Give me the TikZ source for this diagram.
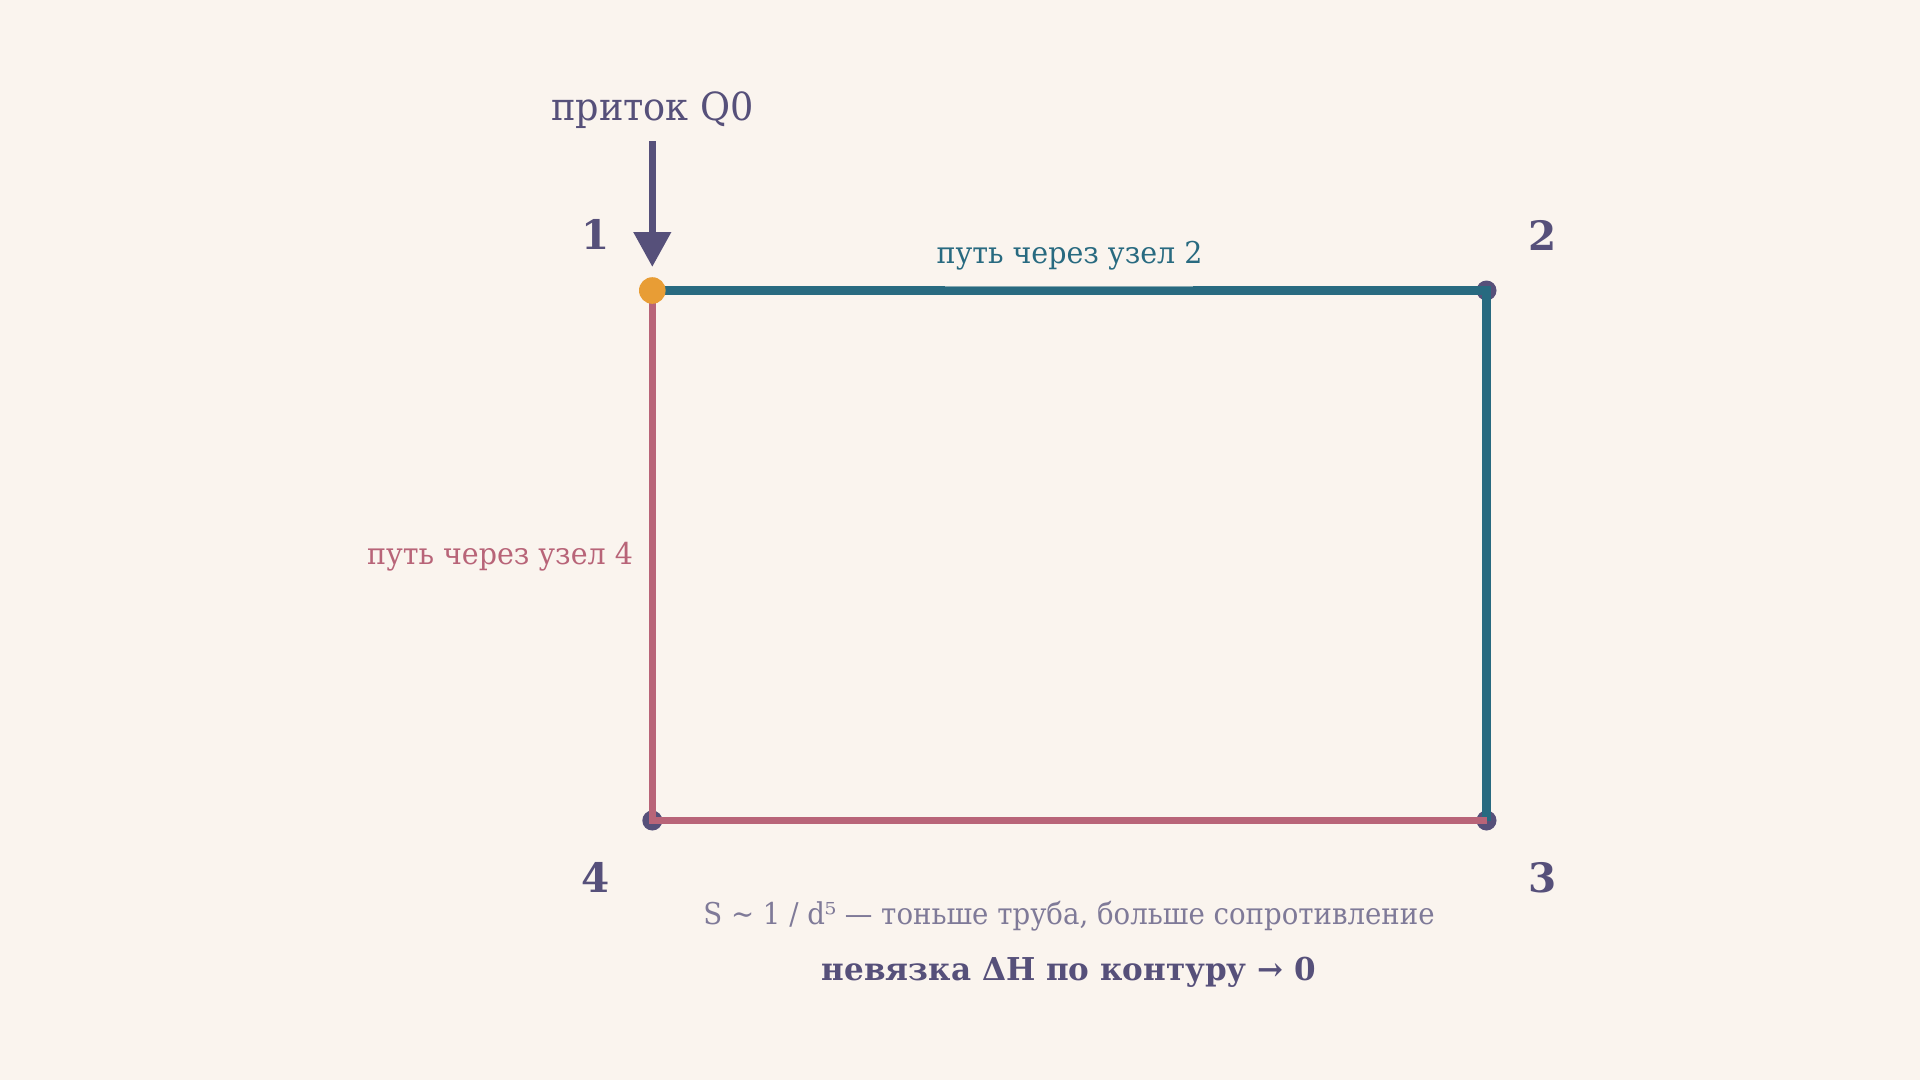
\documentclass[tikz,border=0pt]{standalone}
\usepackage{fontspec}
\setmainfont{DejaVu Serif}
\usetikzlibrary{arrows.meta}
\definecolor{bg}{HTML}{FAF4EE}
\definecolor{ink}{HTML}{56507A}
\definecolor{pipeA}{HTML}{286A80}
\definecolor{pipeB}{HTML}{B86478}
\definecolor{src}{HTML}{E89D35}
\definecolor{note}{HTML}{7F7A98}
\newcommand{\squeeze}[2]{\scalebox{#1}[1]{#2}}
\tikzset{
  junction/.style={circle, fill=ink, minimum size=20pt, inner sep=0pt},
  sourcenode/.style={circle, fill=src, minimum size=26.6pt, inner sep=0pt},
  numlabel/.style={anchor=base, text=ink, font=\fontsize{40.5}{48}\selectfont\bfseries, inner sep=0pt},
  pathlabel/.style={anchor=base, font=\fontsize{30}{36}\selectfont, inner sep=0pt},
  pipeupper/.style={draw=pipeA, line width=9pt, miter limit=10},
  pipelower/.style={draw=pipeB, line width=6.7pt, miter limit=10},
  inflow/.style={draw=ink, line width=7.5pt, -{Triangle[length=35pt,width=36pt]}},
}
\begin{document}
\begin{tikzpicture}[x=1pt, y=-1pt]
\fill[bg] (0,0) rectangle (1920,1080);
\useasboundingbox (0,0) rectangle (1920,1080);
% junctions
\node[junction] (n2) at (1486.5,290.5) {};
\node[junction] (n3) at (1486.5,820.5) {};
\node[junction] (n4) at (652.3,820.5) {};
\coordinate (n1) at (652.3,290.5);
% pipes
\draw[pipeupper] (n1) -- (n2.center) -- (n3.center);
\fill[bg, opacity=0.45] (945,285.2) rectangle (1193,286.8);
\draw[pipelower] (n1) -- (n4.center) -- (n3.center);
\node[sourcenode] (s1) at (n1) {};
% inflow
\coordinate (qtop) at (652.3,141);
\coordinate (qtip) at (652.3,267);
\draw[inflow] (qtop) -- (qtip);
\node[anchor=base, text=ink, font=\fontsize{38.8}{46}\selectfont, inner sep=0pt] (qlabel) at (652.5,120) {\squeeze{0.945}{приток Q0}};
% node numbers
\node[numlabel] (l1) at (596,249.5) {1};
\node[numlabel] (l2) at (1543,250) {2};
\node[numlabel] (l3) at (1543,892) {3};
\node[numlabel] (l4) at (596,892) {4};
% path labels
\node[pathlabel, text=pipeA] (p2) at (1069.5,263) {\squeeze{0.95}{путь через узел 2}};
\node[pathlabel, text=pipeB] (p4) at (500,564) {\squeeze{0.95}{путь через узел 4}};
% notes
\node[anchor=base, text=note, font=\fontsize{30}{36}\selectfont, inner sep=0pt] (note1) at (1069,924) {\squeeze{0.92}{S \textasciitilde{} 1 / d⁵ — тоньше труба, больше сопротивление}};
\node[anchor=base, text=ink, font=\fontsize{31.5}{38}\selectfont\bfseries, inner sep=0pt] (note2) at (1069,980) {\squeeze{0.985}{невязка ΔH по контуру → 0}};
\end{tikzpicture}
\end{document}
